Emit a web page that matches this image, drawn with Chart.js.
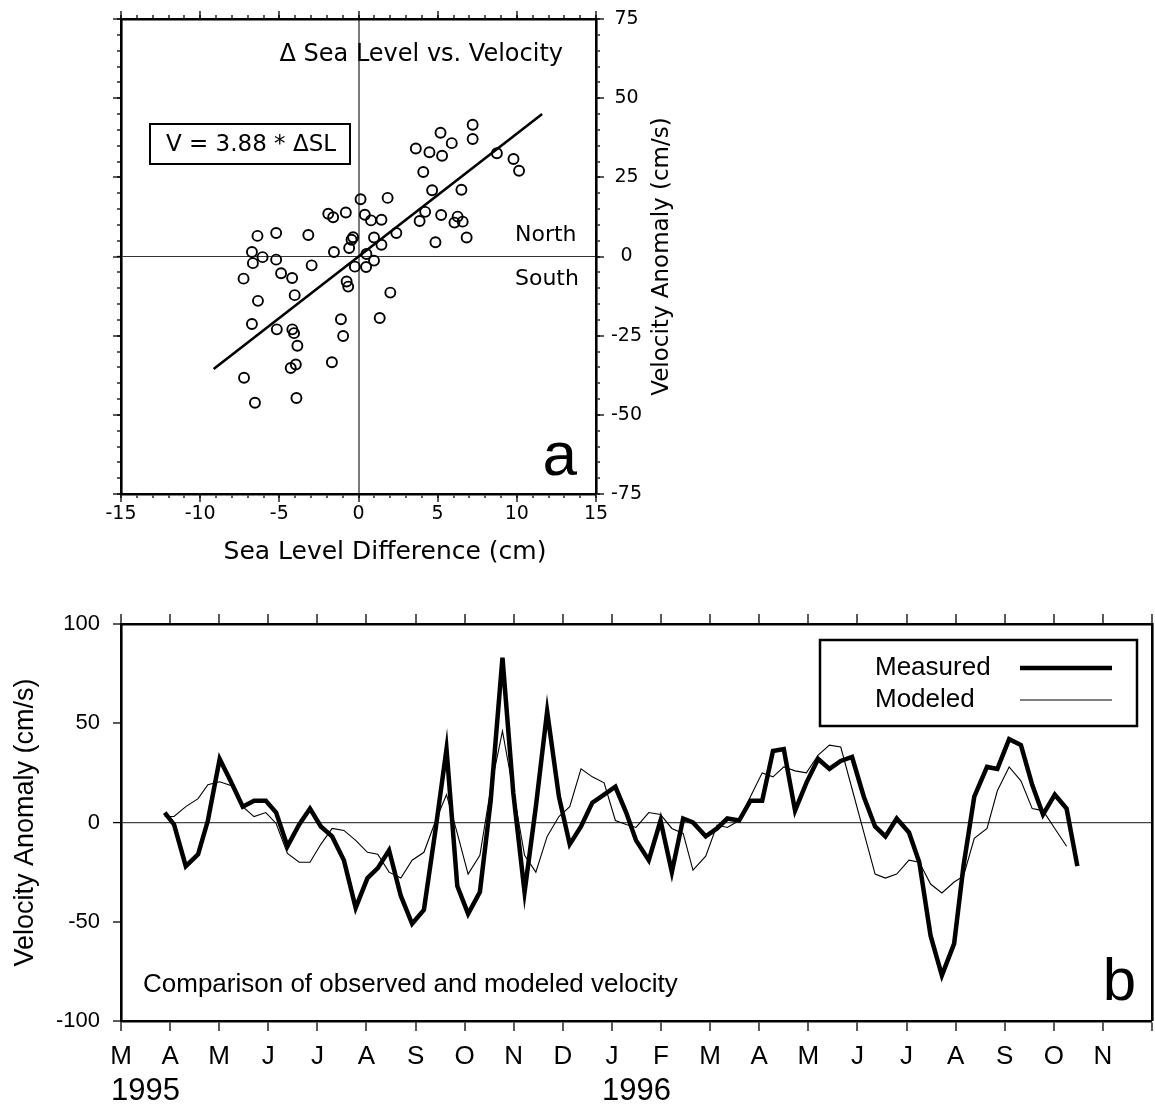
<!DOCTYPE html>
<html><head><meta charset="utf-8">
<script src="https://cdn.jsdelivr.net/npm/chart.js@4.4.1/dist/chart.umd.min.js"></script>
<style>
html,body{margin:0;padding:0;background:#fff;}
#wrap{position:relative;width:1155px;height:1104px;overflow:hidden;background:#fff;}
canvas{position:absolute;left:0;}
#c1{top:0;}
#c2{top:580px;}
</style></head><body>
<div id="wrap">
<canvas id="c1" width="720" height="580"></canvas>
<canvas id="c2" width="1155" height="524"></canvas>
</div>
<script>
// ---------- Panel a: sea level difference vs velocity ----------
const seaLevelDiff = [0.13,-1.91,-1.6,-0.8,0.4,-6.38,-5.2,-3.17,-0.34,-0.44,
  -0.59,-1.55,-6.73,-6.06,-6.67,-5.2,-2.96,-0.23,0.48,-7.26,
  -4.89,-4.19,-0.75,-0.65,-4.03,-6.35,-6.73,-5.16,-4.18,-4.07,
  -3.86,-1.11,-0.97,-3.96,-4.28,-1.68,-7.23,-6.54,-3.92,7.21,
  5.18,7.21,5.89,3.62,4.48,5.28,8.74,9.79,10.14,4.09,
  4.65,6.5,1.84,0.79,1.45,4.21,3.86,5.22,6.26,6.06,
  6.58,6.83,4.86,2.39,0.98,1.45,0.5,0.98,2.01,1.34];
const velocityAnomaly = [18.1,13.5,12.4,13.9,13.2,6.5,7.4,6.8,6.1,5.3,
  2.7,1.4,1.4,-0.2,-2.1,-1,-2.8,-3.2,-3.3,-7,
  -5.3,-6.8,-7.9,-9.5,-12.2,-14,-21.3,-23,-23,-24.2,
  -28.2,-19.8,-25.1,-34.1,-35.2,-33.4,-38.3,-46.2,-44.7,41.6,
  39.1,37.1,35.8,34.1,32.9,31.8,32.6,30.8,27.1,26.7,
  20.9,21.1,18.5,11.4,11.6,14.1,11.2,13.1,12.6,10.7,
  11,6,4.5,7.4,6,3.7,0.8,-1.3,-11.4,-19.4];
const fitLineX = [-9.15, 11.6];
const fitLineV = [-35.5, 45.0];
const slRange = [-15, 15];
const velRange = [-75, 75];

// ---------- Panel b: time series ----------
const monthLabels = ['M','A','M','J','J','A','S','O','N','D','J','F','M','A','M','J','J','A','S','O','N'];
const yearLabels = ['1995','1996'];
const yearMonthIndex = [0, 10];
const timeIndex = [0.89,1.08,1.32,1.57,1.77,2.01,2.25,2.48,2.71,2.95,
  3.16,3.39,3.63,3.85,4.07,4.30,4.54,4.78,5.02,5.23,
  5.46,5.70,5.93,6.17,6.41,6.63,6.85,7.07,7.31,7.53,
  7.77,7.99,8.22,8.45,8.68,8.92,9.14,9.37,9.60,9.84,
  10.07,10.29,10.49,10.75,10.99,11.22,11.45,11.65,11.91,12.14,
  12.35,12.59,12.82,13.06,13.28,13.50,13.73,13.96,14.20,14.43,
  14.66,14.89,15.13,15.36,15.57,15.80,16.05,16.26,16.49,16.72,
  16.97,17.16,17.38,17.64,17.85,18.09,18.33,18.56,18.78,19.02,
  19.26,19.48];
const measured = [5,-1,-22,-16,1,32,20,8,11,11,
  5,-12,-1,7,-2,-7,-19,-43,-28,-23,
  -14,-37,-51,-44,-3,37,-32,-46,-35,11,
  83,15,-35,8,56,13,-11,-2,10,14,
  18,5,-9,-19,1,-25,2,0,-7,-3,
  2,1,11,11,36,37,6,20,32,27,
  31,33,13,-2,-7,2,-5,-20,-57,-77,
  -61,-22,13,28,27,42,39,19,4,14,
  7,-22];
const modeled = [3,3,8,12,19,20.5,18.5,8,3,5,
  -0.5,-15.6,-20,-20,-11,-3,-4,-9,-15,-16,
  -25,-28,-19,-15,1,14,-5.5,-26,-16.5,17,
  46,16,-16.5,-25,-7,3,8,27,23,20,
  1,-1,-2.5,5,4,-3,-5.5,-24,-17,-1.3,
  -2.5,1,13,25,23,28,26,25,34,39,
  38,17,-5,-26,-28,-26,-19,-20,-31,-35.5,
  -30,-27,-8,-3,16,28,21,7,6,-3,
  -12,null];
const monthRange = [0, 21];
const velRangeB = [-100, 100];
const seriesNames = ['Measured','Modeled'];

const SANS = 'DejaVu Sans';
const HELV = 'Liberation Sans';

function zeroColor(col){ return c => (c.tick && Math.abs(c.tick.value) < 1e-9) ? col : 'rgba(0,0,0,0)'; }
function zeroWidth(w){ return c => (c.tick && Math.abs(c.tick.value) < 1e-9) ? w : 0; }
function fix(px){ return s => { if (s.isHorizontal()) s.height = px; else s.width = px; }; }
function axis(pos, weight, range, step, opts){
  const o = Object.assign({tickLen:4, size:0, labels:false, border:false, zero:null}, opts||{});
  return {
    type:'linear', position:pos, weight:weight, min:range[0], max:range[1],
    afterFit: fix(o.size),
    ticks: Object.assign({display:o.labels, stepSize:step, maxTicksLimit:1000, autoSkip:false, maxRotation:0, minRotation:0, color:'#000'}, o.ticks||{}),
    grid: {
      drawOnChartArea: !!o.zero,
      color: o.zero ? zeroColor(o.zero[0]) : 'rgba(0,0,0,0)',
      lineWidth: o.zero ? zeroWidth(o.zero[1]) : 0,
      drawTicks: o.tickLen > 0, tickLength: o.tickLen, tickColor:'#000', tickWidth:1.3
    },
    border: {display:o.border, color:'#000', width:2.6}
  };
}

// ---------- Chart a ----------
const plotA = {
  id:'textA',
  afterDraw(chart){
    const ctx = chart.ctx, a = chart.chartArea;
    ctx.save();
    ctx.fillStyle = '#000';
    ctx.textBaseline = 'middle';
    ctx.font = '24px "' + SANS + '"';
    ctx.textAlign = 'right';
    ctx.fillText('\u0394 Sea Level vs. Velocity', 563, 55);
    // equation box
    ctx.lineWidth = 2;
    ctx.strokeStyle = '#000';
    ctx.strokeRect(150, 124, 200, 40);
    ctx.textAlign = 'center';
    ctx.font = '23px "' + SANS + '"';
    ctx.fillText('V = 3.88 * \u0394SL', 251, 145);
    ctx.textAlign = 'left';
    ctx.font = '22px "' + SANS + '"';
    ctx.fillText('North', 515, 235);
    ctx.fillText('South', 515, 279);
    ctx.textAlign = 'right';
    ctx.textBaseline = 'alphabetic';
    ctx.font = '62px "' + HELV + '"';
    ctx.fillText('a', 577, 475);
    // axis titles
    ctx.textBaseline = 'middle';
    ctx.textAlign = 'center';
    ctx.font = '25px "' + SANS + '"';
    ctx.fillText('Sea Level Difference (cm)', 385, 552);
    ctx.translate(662, (a.top + a.bottom) / 2);
    ctx.rotate(-Math.PI / 2);
    ctx.font = '23px "' + SANS + '"';
    ctx.fillText('Velocity Anomaly (cm/s)', 0, 0);
    ctx.restore();
  }
};

new Chart(document.getElementById('c1'), {
  data: {
    datasets: [
      {type:'scatter', data: seaLevelDiff.map((x,i)=>({x:x, y:velocityAnomaly[i]})),
       xAxisID:'xB', yAxisID:'yL', pointStyle:'circle', pointRadius:5, pointBorderWidth:1.9,
       pointBorderColor:'#000', pointBackgroundColor:'rgba(0,0,0,0)', borderColor:'#000', backgroundColor:'rgba(0,0,0,0)'},
      {type:'line', data: fitLineX.map((x,i)=>({x:x, y:fitLineV[i]})),
       xAxisID:'xB', yAxisID:'yL', borderColor:'#000', borderWidth:2.6, pointRadius:0, tension:0, fill:false}
    ]
  },
  options: {
    responsive:false, animation:false, devicePixelRatio:1,
    layout:{padding:0},
    plugins:{legend:{display:false}, tooltip:{enabled:false}},
    scales: {
      xB: axis('bottom', 0, slRange, 1, {tickLen:4, size:0, border:true, zero:['#7a7a7a', 2]}),
      xB2: axis('bottom', 1, slRange, 5, {tickLen:8, size:86, labels:true, ticks:{font:{family:SANS, size:19}, padding:1}}),
      xT: axis('top', 0, slRange, 1, {tickLen:4, size:0, border:true}),
      xT2: axis('top', 1, slRange, 5, {tickLen:8, size:19}),
      yL: axis('left', 0, velRange, 5, {tickLen:4, size:0, border:true, zero:['#333', 1]}),
      yL2: axis('left', 1, velRange, 25, {tickLen:8, size:121}),
      yR: axis('right', 0, velRange, 5, {tickLen:4, size:0, border:true}),
      yR2: axis('right', 1, velRange, 25, {tickLen:8, size:124, labels:true, ticks:{font:{family:SANS, size:19}, crossAlign:'center', padding:7}})
    }
  },
  plugins:[plotA]
});

// ---------- Chart b ----------
const plotB = {
  id:'textB',
  afterDraw(chart){
    const ctx = chart.ctx, a = chart.chartArea, xs = chart.scales.x;
    ctx.save();
    ctx.fillStyle = '#000';
    ctx.textBaseline = 'middle';
    // years
    ctx.textAlign = 'left';
    ctx.font = '31px "' + HELV + '"';
    yearLabels.forEach((t,i)=>{ ctx.fillText(t, xs.getPixelForValue(yearMonthIndex[i]) - 10, 511); });
    // annotation
    ctx.font = '26px "' + HELV + '"';
    ctx.fillText('Comparison of observed and modeled velocity', 143, 405);
    ctx.textAlign = 'right';
    ctx.textBaseline = 'alphabetic';
    ctx.font = '60px "' + HELV + '"';
    ctx.fillText('b', 1136, 420);
    // legend
    const lx = 820, ly = 60, lw = 317, lh = 86;
    ctx.fillStyle = '#fff';
    ctx.fillRect(lx, ly, lw, lh);
    ctx.lineWidth = 2.5; ctx.strokeStyle = '#000';
    ctx.strokeRect(lx, ly, lw, lh);
    ctx.fillStyle = '#000';
    ctx.textAlign = 'left'; ctx.textBaseline = 'middle';
    ctx.font = '26px "' + HELV + '"';
    const rows = [88, 120];
    chart.data.datasets.forEach((ds,i)=>{
      ctx.fillText(ds.label, 875, rows[i]);
      ctx.beginPath();
      ctx.lineWidth = ds.borderWidth; ctx.strokeStyle = ds.borderColor; ctx.lineCap = 'butt';
      ctx.moveTo(1020, rows[i]); ctx.lineTo(1112, rows[i]); ctx.stroke();
    });
    // y title
    ctx.translate(26, (a.top + a.bottom) / 2);
    ctx.rotate(-Math.PI / 2);
    ctx.textAlign = 'center';
    ctx.font = '27px "' + HELV + '"';
    ctx.fillText('Velocity Anomaly (cm/s)', 0, 0);
    ctx.restore();
  }
};

function series(vals){ const out=[]; vals.forEach((v,i)=>{ if (v !== null) out.push({x:timeIndex[i], y:v}); }); return out; }

new Chart(document.getElementById('c2'), {
  type:'line',
  data: {
    datasets: [
      {label:seriesNames[0], data: series(measured), borderColor:'#000', borderWidth:4.5, pointRadius:0, tension:0,
       borderJoinStyle:'miter', borderCapStyle:'butt', fill:false, xAxisID:'x', yAxisID:'y'},
      {label:seriesNames[1], data: series(modeled), borderColor:'#000', borderWidth:1.1, pointRadius:0, tension:0,
       fill:false, xAxisID:'x', yAxisID:'y'}
    ]
  },
  options: {
    responsive:false, animation:false, devicePixelRatio:1,
    layout:{padding:0},
    plugins:{legend:{display:false}, tooltip:{enabled:false}},
    scales: {
      x: axis('bottom', 0, monthRange, 1, {tickLen:10, size:83, border:true, labels:true,
          ticks:{font:{family:HELV, size:26, lineHeight:1.74}, padding:3, callback:(v)=> monthLabels[Math.round(v)] || ''}}),
      xTop: axis('top', 0, monthRange, 1, {tickLen:10, size:44, border:true}),
      y: axis('left', 0, velRangeB, 50, {tickLen:8, size:121, border:true, labels:true, zero:['#444', 1.2],
          ticks:{font:{family:HELV, size:22}, padding:13}}),
      yRight: axis('right', 0, velRangeB, 50, {tickLen:0, size:3, border:true})
    }
  },
  plugins:[plotB]
});
</script>
</body></html>
